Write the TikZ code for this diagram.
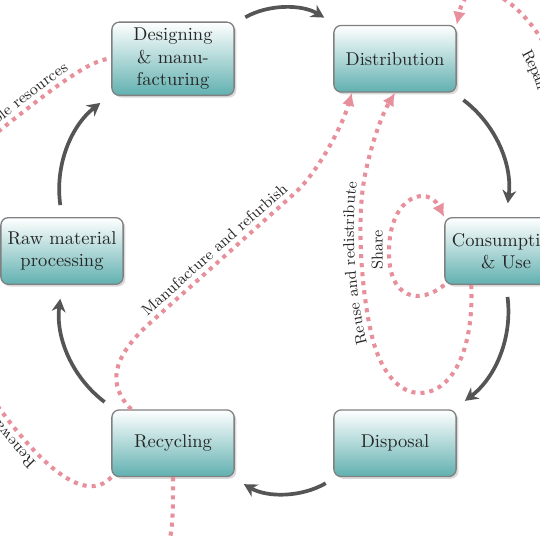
\documentclass[tikz,border=0pt]{standalone}
\usepackage{tikz}
\usetikzlibrary{arrows.meta, positioning, shadows, decorations.text}
\definecolor{loopline}{RGB}{231,144,156}
\definecolor{cyclegray}{RGB}{85,85,85}
\newcommand{\lblfont}{\fontsize{8.5}{10}\selectfont}
\tikzset{
    stage/.style={rectangle, rounded corners=4pt, draw=black!50, line width=0.7pt,
        top color=white, bottom color=teal!62, text=black!85, align=center,
        minimum width=66pt, minimum height=36pt,
        drop shadow={shadow xshift=1.2pt, shadow yshift=-1.2pt, opacity=0.3}},
    cyclearrow/.style={draw=cyclegray, line width=2pt,
        -{Stealth[length=7pt, width=7.5pt]}, shorten <=6.5pt, shorten >=7.5pt},
    reuseline/.style={draw=loopline, line width=2.2pt, dash pattern=on 2.2pt off 2.7pt},
    reusearrow/.style={reuseline, -{Latex[length=7pt, width=7pt]}},
    pathtext/.style={decorate, decoration={text along path, text={|\lblfont|#1},
        text align=center, raise=3.5pt, text color=black!85}},
}

\begin{document}
\begin{tikzpicture}[x=0.54pt, y=0.54pt]
    \useasboundingbox (-284,-287) rectangle (256,251);
    \clip (-284,-287) rectangle (256,251);

    % stages
    \node[stage] (design)  at (120:222)  {Designing\\\& manu-\\facturing};
    \node[stage] (distrib) at (60:222)   {Distribution};
    \node[stage] (consume) at (0:222)    {Consumption\\\& Use};
    \node[stage] (dispose) at (-60:222)  {Disposal};
    \node[stage] (recycle) at (-120:222) {Recycling};
    \node[stage] (raw)     at (180:222)  {Raw material\\processing};

    % main cycle
    \draw[cyclearrow] (design)  to[bend left=30] (distrib);
    \draw[cyclearrow] (distrib) to[bend left=30] (consume);
    \draw[cyclearrow] (consume) to[bend left=30] (dispose);
    \draw[cyclearrow] (dispose) to[bend left=30] (recycle);
    \draw[cyclearrow] (recycle) to[bend left=30] (raw);
    \draw[cyclearrow] (raw)     to[bend left=30] (design);

    % manufacture and refurbish
    \coordinate (ma) at (-134,-72);
    \coordinate (mb) at (11,58);
    \draw[reusearrow] ([shift={(20,0)}]recycle.north west)
        .. controls (-176,-135) and (-174,-108) .. (ma) -- (mb)
        .. controls (33,78) and (58,124) .. ([shift={(-43,0)}]distrib.south);
    \path[pathtext={Manufacture and refurbish}] (ma) -- (mb);

    % reuse and redistribute
    \coordinate (ra) at (92,-99);
    \coordinate (rb) at (81,76);
    \draw[reusearrow] ([shift={(27,0)}]consume.south west)
        .. controls (190,-94) and (171,-141) .. (136,-142)
        .. controls (116,-142) and (101,-124) .. (ra)
        .. controls (81,-69) and (70,21) .. (rb)
        .. controls (86,101) and (96,133) .. (distrib.south);
    \path[pathtext={Reuse and redistribute}] (ra) .. controls (81,-69) and (70,21) .. (rb);

    % share
    \coordinate (sh) at (105,1);
    \draw[reusearrow] (consume.south west)
        .. controls (136,-54) and (104,-49) .. (sh)
        .. controls (106,56) and (144,66) .. (consume.north west);
    \path[pathtext={Share}] ([shift={(0,-25)}]sh) -- ([shift={(0,25)}]sh);

    % repair
    \coordinate (ga) at (256,214);
    \draw[reusearrow] (consume.north east)
        .. controls (301,101) and (280,176) .. (ga)
        .. controls (229,256) and (184,281) .. (distrib.north east);
    \path[pathtext={Repair and maintain}, decoration={text align={left, left indent=3pt}, raise=-13pt}]
        (ga) .. controls (280,176) and (301,101) .. (consume.north east);

    % resources in and out
    \coordinate (rawsrc) at (-344,76);
    \draw[reuseline] (rawsrc) .. controls (-284,116) and (-204,193) .. (design.west);
    \path[pathtext={Non-renewable resources}, decoration={text align={right, right indent=23pt}}]
        (rawsrc) .. controls (-284,116) and (-204,193) .. (design.west);

    \coordinate (renewout) at (-324,-99);
    \draw[reuseline] (recycle.south west) .. controls (-199,-254) and (-249,-219) .. (renewout);
    \path[pathtext={Renewable materials}, decoration={text align={left, left indent=44pt}}]
        (recycle.south west) .. controls (-199,-254) and (-249,-219) .. (renewout);

    \coordinate (recout) at (-124,-329);
    \draw[reuseline] (recycle.south) .. controls (-111,-279) .. (recout);
\end{tikzpicture}
\end{document}
